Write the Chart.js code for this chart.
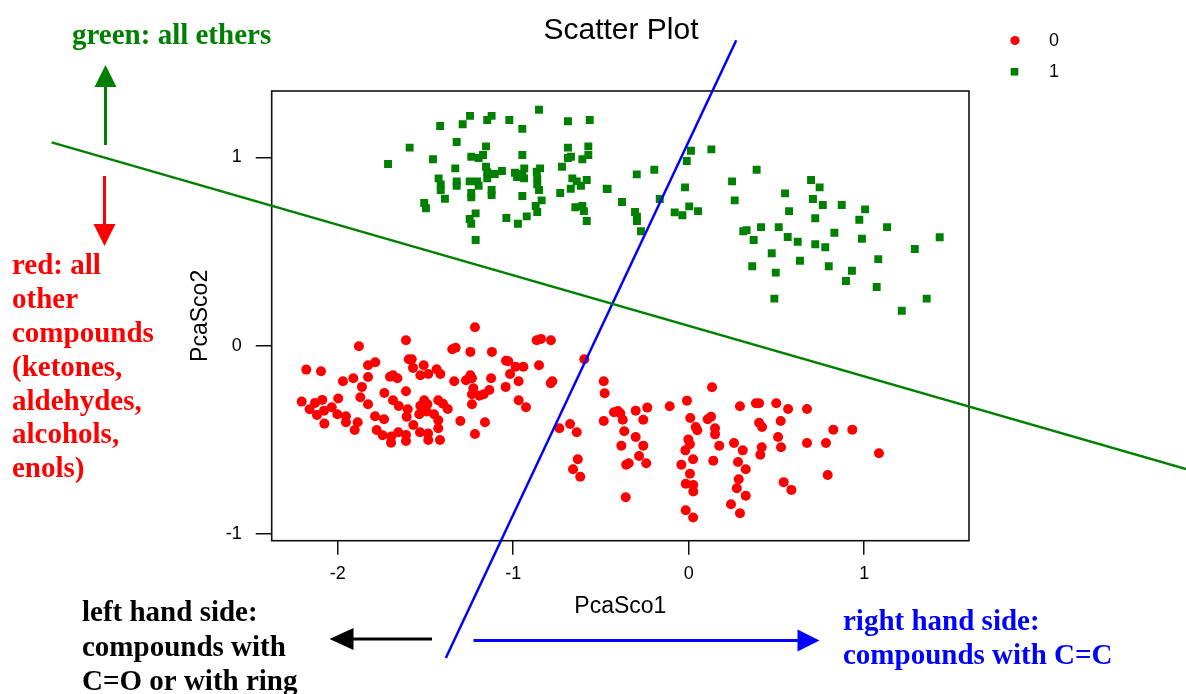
<!DOCTYPE html>
<html><head><meta charset="utf-8">
<script src="https://cdn.jsdelivr.net/npm/chart.js@4.4.1/dist/chart.umd.min.js"></script>
<style>html,body{margin:0;padding:0;background:#fff;}#wrap{width:1186px;height:694px;position:relative;}</style>
</head><body><div id="wrap"><canvas id="c" width="1186" height="694"></canvas></div>
<script>
// ---- data (PCA scores) ----
const xTickValues = [-2, -1, 0, 1];
const yTickValues = [-1, 0, 1];
const xRange = [-2.376, 1.597];
const yRange = [-1.036, 1.353];
const seriesLabels = ['0', '1'];

const class0X = [-1.218,-1.611,-1.879,-0.866,-0.842,-0.785,-1.347,-1.328,-1.244,-1.121,
-1.595,-1.578,-1.827,-1.786,-1.571,-1.510,-1.436,-1.415,-1.529,-1.484,
-1.041,-1.028,-0.986,-0.942,-0.853,-2.179,-2.095,-1.018,-1.702,-1.685,
-1.660,-1.827,-1.911,-1.970,-1.244,-1.235,-1.269,-1.336,-1.126,-0.969,
-0.777,-0.786,-1.862,-1.611,-1.734,-1.227,-1.235,-1.193,-1.168,-1.136,
-1.043,-1.871,-1.997,-2.205,-2.129,-2.088,-1.685,-1.827,-1.652,-1.507,
-1.529,-1.489,-1.427,-1.400,-1.373,-1.235,-0.969,-0.927,-2.160,-2.078,
-2.034,-2.118,-2.002,-1.953,-1.601,-1.607,-1.787,-1.736,-1.535,-1.516,
-1.493,-1.451,-1.427,-2.076,-1.953,-1.886,-1.301,-1.161,-1.569,-1.427,
-1.903,-1.778,-1.655,-1.531,-1.485,-1.218,-1.744,-1.695,-1.611,-1.696,
-1.611,-1.484,-1.417,-0.737,-0.676,-0.638,
-0.595,-0.484,-0.479,0.133,-0.010,-0.108,-0.236,-0.302,0.292,0.383,
0.401,0.499,0.566,0.674,-0.426,-0.403,-0.390,-0.376,-0.259,-0.484,
0.009,0.108,0.127,0.401,0.418,0.524,0.040,0.049,0.150,0.150,
-0.367,-0.302,0.824,0.932,0.509,-0.002,0.007,-0.019,-0.384,-0.259,
0.174,0.258,0.308,0.416,0.408,0.526,0.674,0.782,1.084,-0.632,
-0.659,-0.618,-0.283,-0.356,-0.342,-0.242,0.025,-0.042,0.140,0.281,
0.325,0.007,0.285,0.274,0.325,-0.017,0.026,0.026,0.541,0.585,
0.792,-0.359,0.241,0.292,-0.017,0.025];
const class0Y = [0.098,0.029,-0.003,0.029,0.036,0.029,-0.019,-0.011,-0.033,-0.033,
-0.072,-0.072,-0.104,-0.088,-0.118,-0.104,-0.125,-0.150,-0.157,-0.150,
-0.080,-0.083,-0.112,-0.112,-0.104,-0.127,-0.136,-0.150,-0.165,-0.157,
-0.173,-0.166,-0.173,-0.189,-0.157,-0.173,-0.184,-0.189,-0.173,-0.189,
-0.189,-0.200,-0.219,-0.242,-0.251,-0.226,-0.258,-0.266,-0.258,-0.235,
-0.219,-0.274,-0.281,-0.297,-0.304,-0.288,-0.290,-0.311,-0.320,-0.290,
-0.319,-0.311,-0.290,-0.308,-0.336,-0.311,-0.290,-0.327,-0.338,-0.345,
-0.327,-0.368,-0.364,-0.375,-0.338,-0.377,-0.375,-0.391,-0.364,-0.336,
-0.350,-0.364,-0.396,-0.414,-0.407,-0.407,-0.400,-0.407,-0.421,-0.439,
-0.448,-0.448,-0.460,-0.460,-0.467,-0.469,-0.476,-0.483,-0.474,-0.515,
-0.506,-0.501,-0.501,-0.439,-0.416,-0.460,
-0.072,-0.189,-0.253,-0.221,-0.292,-0.322,-0.329,-0.345,-0.322,-0.306,
-0.306,-0.306,-0.336,-0.336,-0.354,-0.347,-0.359,-0.393,-0.393,-0.400,
-0.384,-0.391,-0.377,-0.409,-0.432,-0.400,-0.432,-0.449,-0.439,-0.471,
-0.455,-0.485,-0.446,-0.446,-0.485,-0.499,-0.524,-0.556,-0.531,-0.531,
-0.531,-0.517,-0.556,-0.540,-0.579,-0.540,-0.517,-0.517,-0.571,-0.603,
-0.656,-0.696,-0.586,-0.632,-0.625,-0.625,-0.603,-0.632,-0.611,-0.618,
-0.656,-0.680,-0.710,-0.757,-0.797,-0.733,-0.740,-0.775,-0.725,-0.766,
-0.687,-0.805,-0.842,-0.890,-0.874,-0.913];

const class1X = [-0.853,-1.246,-1.123,-1.148,-1.022,-0.688,-0.564,-1.416,-1.288,-0.948,
-1.322,-1.590,-1.155,-0.688,-0.572,-1.713,-1.457,-1.239,-1.197,-1.172,
-0.948,-0.688,-0.671,-0.606,-0.572,-1.330,-1.155,-1.148,-1.105,-1.064,
-0.990,-0.937,-0.948,-0.978,-0.938,-0.847,-0.866,-0.863,-0.722,-1.148,
-1.425,-1.413,-1.413,-1.322,-1.322,-1.248,-1.206,-1.197,-0.863,-0.853,
-0.663,-0.638,-0.614,-0.581,-0.672,-0.467,-0.732,-1.123,-1.123,-1.239,
-1.239,-0.948,-1.389,-1.507,-1.497,-0.838,-0.872,-0.863,-0.646,-0.606,
-0.597,-0.581,-1.214,-1.248,-1.239,-1.039,-0.973,-0.923,-1.214,
0.013,0.129,-0.011,0.387,-0.196,-0.296,0.247,0.697,0.746,-0.462,
-0.021,0.549,0.262,0.708,0.764,0.872,1.005,-0.380,-0.165,-0.306,
-0.295,-0.295,-0.272,-0.080,-0.036,0.003,0.053,0.572,0.721,0.972,
1.130,1.430,0.311,0.330,0.412,0.513,0.370,0.564,0.621,0.721,
0.778,0.830,0.987,1.288,0.473,0.634,0.362,0.496,0.798,0.930,
1.080,0.896,1.071,0.488,1.356,1.214];
const class1Y = [1.253,1.221,1.221,1.199,1.199,1.192,1.199,1.167,1.176,1.152,
1.082,1.052,1.059,1.052,1.059,0.965,0.990,1.004,0.997,1.013,
1.013,0.997,1.004,0.990,1.013,0.942,0.951,0.921,0.912,0.928,
0.919,0.942,0.912,0.896,0.889,0.942,0.924,0.889,0.951,0.889,
0.889,0.857,0.827,0.873,0.850,0.873,0.873,0.850,0.857,0.827,
0.889,0.873,0.850,0.880,0.834,0.834,0.811,0.827,0.800,0.811,
0.788,0.795,0.781,0.758,0.730,0.772,0.742,0.710,0.735,0.742,
0.715,0.662,0.703,0.673,0.648,0.678,0.648,0.687,0.561,
1.036,1.043,0.981,0.935,0.935,0.910,0.873,0.880,0.841,0.832,
0.841,0.809,0.772,0.779,0.747,0.747,0.724,0.763,0.779,0.710,
0.685,0.662,0.608,0.708,0.693,0.740,0.715,0.715,0.677,0.669,
0.630,0.576,0.608,0.614,0.630,0.630,0.561,0.577,0.552,0.539,
0.523,0.600,0.568,0.514,0.491,0.451,0.422,0.388,0.422,0.398,
0.460,0.344,0.312,0.250,0.250,0.186];

// separating lines drawn on the picture (in data units)
const etherLineX = [-3.630, 2.834];
const etherLineY = [1.080, -0.655];
const ccLineX = [0.271, -1.384];
const ccLineY = [1.623, -1.659];

const toPts = (xs, ys) => xs.map((x, i) => ({x, y: ys[i]}));

const SANS = '"Liberation Sans", Arial, sans-serif';
const SERIF = '"Liberation Serif", "Times New Roman", serif';
const GREEN = '#008000', RED = '#FF0000', BLUE = '#0000FF';

function arrow(ctx, x1, y1, x2, y2, color, headLen, headHalf, lw) {
  const dx = x2 - x1, dy = y2 - y1, L = Math.hypot(dx, dy);
  const ux = dx / L, uy = dy / L;
  const bx = x2 - ux * headLen, by = y2 - uy * headLen;
  ctx.save();
  ctx.strokeStyle = color; ctx.fillStyle = color; ctx.lineWidth = lw;
  ctx.beginPath(); ctx.moveTo(x1, y1); ctx.lineTo(bx + ux, by + uy); ctx.stroke();
  ctx.beginPath();
  ctx.moveTo(x2, y2);
  ctx.lineTo(bx - uy * headHalf, by + ux * headHalf);
  ctx.lineTo(bx + uy * headHalf, by - ux * headHalf);
  ctx.closePath(); ctx.fill();
  ctx.restore();
}

const decor = {
  id: 'decor',
  beforeDatasetsDraw(chart) {
    const {ctx, chartArea: a} = chart;
    ctx.save();
    ctx.strokeStyle = '#111'; ctx.lineWidth = 1.6;
    ctx.strokeRect(a.left, a.top, a.right - a.left, a.bottom - a.top);
    ctx.restore();
  },
  afterDraw(chart) {
    const {ctx} = chart;
    ctx.save();
    // title
    ctx.fillStyle = '#000';
    ctx.font = '30px ' + SANS;
    ctx.textAlign = 'center'; ctx.textBaseline = 'alphabetic';
    ctx.fillText('Scatter Plot', 621, 39);
    // legend
    ctx.fillStyle = RED;
    ctx.beginPath(); ctx.arc(1015, 40.5, 4.6, 0, Math.PI * 2); ctx.fill();
    ctx.fillStyle = GREEN;
    ctx.fillRect(1014.5 - 3.8, 71.8 - 3.8, 7.6, 7.6);
    ctx.fillStyle = '#000';
    ctx.font = '18px ' + SANS;
    ctx.textAlign = 'left'; ctx.textBaseline = 'middle';
    ctx.fillText(seriesLabels[0], 1049, 41.5);
    ctx.fillText(seriesLabels[1], 1049, 72.5);
    // annotations
    ctx.font = 'bold 29px ' + SERIF;
    ctx.textBaseline = 'alphabetic';
    ctx.fillStyle = GREEN;
    ctx.fillText('green: all ethers', 72, 44);
    ctx.fillStyle = RED;
    const redLines = ['red: all', 'other', 'compounds', '(ketones,', 'aldehydes,', 'alcohols,', 'enols)'];
    const redBase = [274, 308, 342, 376, 410, 443, 477];
    redLines.forEach((t, i) => ctx.fillText(t, 12, redBase[i]));
    ctx.fillStyle = '#000';
    ['left hand side:', 'compounds with', 'C=O or with ring'].forEach((t, i) => ctx.fillText(t, 82, [621, 656, 690][i]));
    ctx.fillStyle = BLUE;
    ['right hand side:', 'compounds with C=C'].forEach((t, i) => ctx.fillText(t, 843, [630, 664][i]));
    ctx.restore();
    arrow(ctx, 105.5, 145, 105.5, 65, GREEN, 22, 11, 3);
    arrow(ctx, 104.5, 176, 104.5, 246, RED, 22, 11, 3);
    arrow(ctx, 432, 639, 329.5, 639, '#000', 24, 11, 3);
    arrow(ctx, 473.5, 640.5, 819.5, 640.5, BLUE, 22, 11, 3);
  }
};

new Chart(document.getElementById('c'), {
  type: 'scatter',
  data: {
    datasets: [
      { label: 'ethers', data: toPts(etherLineX, etherLineY), showLine: true, borderColor: GREEN, borderWidth: 2.5, pointRadius: 0, clip: false, fill: false },
      { label: 'C=C', data: toPts(ccLineX, ccLineY), showLine: true, borderColor: BLUE, borderWidth: 2.5, pointRadius: 0, clip: false, fill: false },
      { label: seriesLabels[0], data: toPts(class0X, class0Y), pointStyle: 'circle', pointRadius: 5, backgroundColor: RED, borderColor: RED, pointBorderWidth: 0 },
      { label: seriesLabels[1], data: toPts(class1X, class1Y), pointStyle: 'rect', pointRadius: 5.6, backgroundColor: GREEN, borderColor: GREEN, pointBorderWidth: 0 }
    ]
  },
  options: {
    responsive: false, animation: false, events: [],
    layout: { padding: { left: 186.5, right: 217, top: 91, bottom: 73.2 } },
    plugins: { legend: { display: false }, title: { display: false }, tooltip: { enabled: false } },
    scales: {
      x: {
        type: 'linear', min: xRange[0], max: xRange[1],
        afterBuildTicks: s => { s.ticks = xTickValues.map(v => ({value: v})); },
        afterFit: s => { s.height = 80.1; },
        grid: { drawOnChartArea: false, drawTicks: true, tickLength: 14, color: '#111', lineWidth: 1.5 },
        border: { display: false },
        ticks: { padding: 8.5, color: '#000', font: { family: SANS, size: 18 }, maxRotation: 0, autoSkip: false },
        title: { display: true, text: 'PcaSco1', color: '#000', font: { family: SANS, size: 23 }, padding: 0 }
      },
      y: {
        type: 'linear', min: yRange[0], max: yRange[1],
        afterBuildTicks: s => { s.ticks = yTickValues.map(v => ({value: v})); },
        afterFit: s => { s.width = 85.2; },
        grid: { drawOnChartArea: false, drawTicks: true, tickLength: 16, color: '#111', lineWidth: 1.5 },
        border: { display: false },
        ticks: { padding: 14, color: '#000', font: { family: SANS, size: 18 }, autoSkip: false },
        title: { display: true, text: 'PcaSco2', color: '#000', font: { family: SANS, size: 23 }, padding: 0 }
      }
    }
  },
  plugins: [decor]
});
</script></body></html>
